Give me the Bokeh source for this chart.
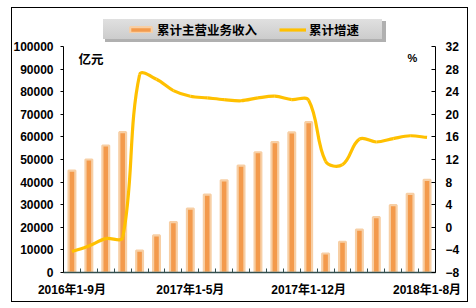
import numpy as np
from bokeh.plotting import figure
from bokeh.models import (Range1d, LinearAxis, FixedTicker, Label,
                          Legend, LegendItem, NumeralTickFormatter)
from bokeh.embed import file_html
from bokeh.resources import INLINE

# ---------------- data ----------------
categories = ["2016年1-9月", "2016年1-10月", "2016年1-11月", "2016年1-12月",
              "2017年1-2月", "2017年1-3月", "2017年1-4月", "2017年1-5月", "2017年1-6月",
              "2017年1-7月", "2017年1-8月", "2017年1-9月", "2017年1-10月", "2017年1-11月",
              "2017年1-12月", "2018年1-2月", "2018年1-3月", "2018年1-4月", "2018年1-5月",
              "2018年1-6月", "2018年1-7月", "2018年1-8月"]
revenue = [45100, 50000, 56200, 62100, 9700, 16400, 22300, 28300, 34500, 40800, 47300,
           53200, 57700, 62000, 66500, 8400, 13600, 19000, 24500, 29800, 34800, 41000]
growth = [-4.3, -3.3, -2.0, -1.8, 27.0, 26.2, 24.2, 23.2, 22.9, 22.6, 22.4,
          22.9, 23.2, 22.6, 22.5, 11.7, 11.1, 15.6, 15.1, 15.7, 16.2, 15.9]
tick_labels = ["2016年1-9月", "2017年1-5月", "2017年1-12月", "2018年1-8月"]
left_ticks = list(range(0, 100001, 10000))
right_ticks = list(range(-8, 33, 4))
series_names = ["累计主营业务收入", "累计增速"]

# ---------------- layout ----------------
W, H = 476, 308
L, R, T, B = 63, 41, 15, 36      # frame extends up to hold the legend
AXIS_TOP = 46                     # canvas y where the value axes end
n = len(categories)
xs = list(range(n))

FONT = "Liberation Sans, Noto Sans CJK SC"
CJK = "Noto Sans CJK SC"

def band(x, y, w, h, c1, c2=None):
    c2 = c2 or c1
    return f"linear-gradient({c1},{c2}) {x}px {y}px / {w}px {h}px no-repeat"

css_bg = ", ".join([
    band(11, 7, 457, 1, "#000"), band(11, 301, 457, 1, "#000"),
    band(11, 7, 1, 295, "#000"), band(467, 7, 1, 295, "#000"),
    band(103, 19, 279, 20, "#e0e0e0", "#cccccc"),
    band(105, 21, 281, 21, "#b0b0b0"),
    band(106, 22, 279, 20, "#8a8a8a"),
])

fw = W - L - R
fh = H - T - B
axis_h = H - B - AXIS_TOP
lo, hi = left_ticks[0], left_ticks[-1]
y_top = lo + (hi - lo) * fh / axis_h
rlo, rhi = right_ticks[0], right_ticks[-1]
r_top = rlo + (rhi - rlo) * fh / axis_h

p = figure(width=W, height=H, output_backend="svg", toolbar_location=None,
           x_range=Range1d(-0.5, n - 0.5), y_range=Range1d(lo, y_top),
           min_border_left=L, min_border_right=R, min_border_top=T, min_border_bottom=B,
           background_fill_color=None, border_fill_color=None,
           styles={"background": css_bg, "background-color": "white"})
p.outline_line_color = None
p.xgrid.visible = False
p.ygrid.visible = False

# x axis
xa = p.xaxis[0]
tick_idx = [categories.index(t) for t in tick_labels]
xa.ticker = FixedTicker(ticks=tick_idx, minor_ticks=[i - 0.5 for i in range(n + 1)])
xa.major_label_overrides = {i: categories[i] for i in tick_idx}
xa.major_tick_line_color = None
xa.minor_tick_in = 4
xa.minor_tick_out = 0
xa.minor_tick_line_color = "#34504F"
xa.axis_line_color = "#34504F"
xa.axis_line_width = 1.5
xa.major_label_standoff = 4
xa.major_label_text_font = FONT
xa.major_label_text_font_size = "12px"
xa.major_label_text_font_style = "bold"
xa.major_label_text_color = "black"

# left axis
ya = p.yaxis[0]
ya.ticker = FixedTicker(ticks=left_ticks)
ya.bounds = (lo, hi)
ya.formatter = NumeralTickFormatter(format="0")
ya.minor_tick_line_color = None
ya.major_tick_in = 0
ya.major_tick_out = 3
ya.major_label_standoff = 7
ya.major_label_text_font = FONT
ya.major_label_text_font_size = "12px"
ya.major_label_text_font_style = "bold"
ya.major_label_text_color = "black"
ya.axis_line_color = "black"

# right axis
p.extra_y_ranges = {"right": Range1d(rlo, r_top)}
ra = LinearAxis(y_range_name="right", ticker=FixedTicker(ticks=right_ticks), bounds=(rlo, rhi))
ra.minor_tick_line_color = None
ra.major_tick_in = 4
ra.major_tick_out = 0
ra.major_label_standoff = 10
ra.major_label_text_font = FONT
ra.major_label_text_font_size = "12px"
ra.major_label_text_font_style = "bold"
ra.major_label_text_color = "black"
ra.axis_line_color = "black"
p.add_layout(ra, "right")

# bars
bars = p.vbar(x=xs, top=revenue, bottom=0, width=0.4,
              fill_color="#F39A4C", line_color="#F7CFA5", line_width=2.2)

# smoothed growth line (Bezier segments through the data points)
sx = fw / n
sy = axis_h / (rhi - rlo)
P = np.column_stack([np.array(xs, float) * sx, np.array(growth, float) * sy])
D = np.zeros_like(P)
for i in range(n):
    a = P[max(i - 1, 0)]
    b = P[min(i + 1, n - 1)]
    v = b - a
    D[i] = v / np.hypot(*v)
x0, y0, x1, y1, cx0, cy0, cx1, cy1 = ([] for _ in range(8))
for i in range(n - 1):
    seg = np.hypot(*(P[i + 1] - P[i])) / 3.0
    c0 = P[i] + D[i] * seg
    c1 = P[i + 1] - D[i + 1] * seg
    x0.append(xs[i]); y0.append(growth[i])
    x1.append(xs[i + 1]); y1.append(growth[i + 1])
    cx0.append(c0[0] / sx); cy0.append(c0[1] / sy)
    cx1.append(c1[0] / sx); cy1.append(c1[1] / sy)
curve = p.bezier(x0=x0, y0=y0, x1=x1, y1=y1, cx0=cx0, cy0=cy0, cx1=cx1, cy1=cy1,
                 y_range_name="right", line_color="#FFC000", line_width=3.2)

legend = Legend(items=[LegendItem(label=series_names[0], renderers=[bars]),
                       LegendItem(label=series_names[1], renderers=[curve])],
                orientation="horizontal", location=(127 - L, (H - B) - 39),
                background_fill_alpha=0, border_line_color=None,
                padding=0, margin=0, spacing=22,
                glyph_width=27, glyph_height=7, label_standoff=3, label_height=12,
                label_text_font=CJK, label_text_font_size="12.5px",
                label_text_font_style="bold", label_text_color="black")
p.add_layout(legend, "center")

# unit labels
ypx = (hi - lo) / axis_h
p.add_layout(Label(x=(78 - L) / sx - 0.5, y=(H - B - 58) * ypx, text="亿元",
                   text_font=CJK, text_font_size="12.5px", text_font_style="bold",
                   text_baseline="middle", text_align="left", text_color="black"))
p.add_layout(Label(x=(412 - L) / sx - 0.5, y=(H - B - 57) * ypx, text="%",
                   text_font=FONT, text_font_size="11px", text_font_style="bold",
                   text_baseline="middle", text_align="center", text_color="black"))

open("out.html", "w").write(file_html(p, INLINE))
